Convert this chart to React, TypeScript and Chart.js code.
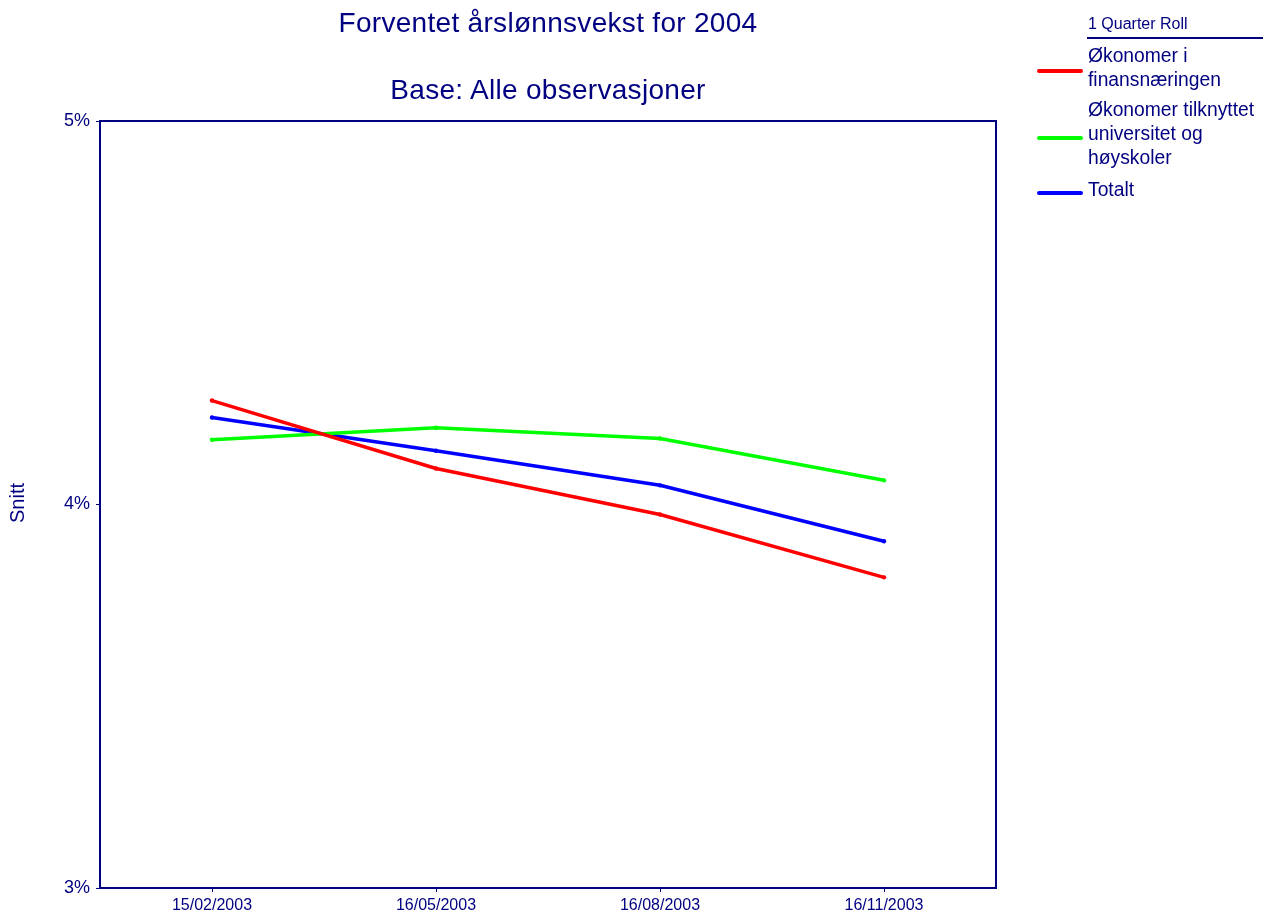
import React, { useEffect, useRef } from "react";
import { Chart, registerables } from "chart.js";
Chart.register(...registerables);

const categories = ["15/02/2003", "16/05/2003", "16/08/2003", "16/11/2003"];
const finans = [4.271, 4.094, 3.974, 3.81];
const universitet = [4.169, 4.2, 4.172, 4.063];
const totalt = [4.227, 4.14, 4.05, 3.904];
const yTicks = [3, 4, 5];

const NAVY = "#000080";
const FONT = "'Liberation Sans', Arial, sans-serif";

const frame = {
  id: "frame",
  afterDraw(chart: any) {
    const { ctx, chartArea: a } = chart;
    ctx.save();
    ctx.strokeStyle = NAVY;
    ctx.lineWidth = 2;
    ctx.strokeRect(a.left, a.top, a.right - a.left, a.bottom - a.top);
    ctx.restore();
  },
};

export default function App() {
  const ref = useRef<HTMLCanvasElement>(null);
  useEffect(() => {
    const ds = (label: string, data: number[], color: string) => ({
      label,
      data,
      borderColor: color,
      backgroundColor: color,
      borderWidth: 3.5,
      pointRadius: 2.2,
      pointBorderWidth: 0,
      tension: 0,
    });
    const chart = new Chart(ref.current!, {
      type: "line",
      data: {
        labels: categories,
        datasets: [
          ds("Økonomer i finansnæringen", finans, "#ff0000"),
          ds("Økonomer tilknyttet universitet og høyskoler", universitet, "#00ff00"),
          ds("Totalt", totalt, "#0000ff"),
        ],
      },
      options: {
        animation: false,
        responsive: false,
        layout: { padding: { left: 0, top: 121, right: 267, bottom: 0 } },
        plugins: { legend: { display: false }, title: { display: false }, tooltip: { enabled: false } },
        scales: {
          x: {
            offset: true,
            grid: { drawOnChartArea: false, tickLength: 4, color: NAVY, lineWidth: 1 },
            border: { color: NAVY, width: 2 },
            ticks: { color: NAVY, font: { family: FONT, size: 16 }, maxRotation: 0, padding: 4 },
            afterFit: (s: any) => { s.height = 24; },
          },
          y: {
            min: 3,
            max: 5,
            afterBuildTicks: (s: any) => { s.ticks = yTicks.map((v) => ({ value: v })); },
            grid: { drawOnChartArea: false, tickLength: 4, color: NAVY, lineWidth: 1 },
            border: { color: NAVY, width: 2 },
            ticks: {
              color: NAVY,
              font: { family: FONT, size: 18 },
              padding: 6,
              callback: (v: any) => v + "%",
            },
            afterFit: (s: any) => { s.width = 100; },
          },
        },
      },
      plugins: [frame],
    });
    return () => chart.destroy();
  }, []);

  const t: React.CSSProperties = { position: "absolute", color: NAVY, fontFamily: FONT, whiteSpace: "nowrap" };
  const title: React.CSSProperties = { ...t, left: 100, width: 896, textAlign: "center", fontSize: 28, lineHeight: "28px", letterSpacing: "0.3px" };
  const legText: React.CSSProperties = { ...t, left: 1088, fontSize: 19.3, lineHeight: "24px" };
  const swatch = (top: number, color: string): React.CSSProperties => ({
    position: "absolute", left: 1037, top, width: 46, height: 4, background: color, borderRadius: 2,
  });

  return (
    <div style={{ position: "absolute", left: 0, top: 0, width: 1263, height: 912, background: "#fff", overflow: "hidden" }}>
      <canvas ref={ref} width={1263} height={912} style={{ position: "absolute", left: 0, top: 0 }} />
      <div style={{ ...title, top: 9 }}>Forventet årslønnsvekst for 2004</div>
      <div style={{ ...title, top: 76 }}>Base: Alle observasjoner</div>
      <div style={{ ...t, left: -8, top: 491, width: 50, height: 24, lineHeight: "24px", fontSize: 20, transform: "rotate(-90deg)", transformOrigin: "center", textAlign: "center" }}>Snitt</div>
      <div style={{ ...t, left: 1088, top: 16, fontSize: 16, lineHeight: "16px" }}>1 Quarter Roll</div>
      <div style={{ position: "absolute", left: 1087, top: 37, width: 176, height: 2, background: NAVY }} />
      <div style={{ ...legText, top: 44 }}>Økonomer i<br />finansnæringen</div>
      <div style={swatch(69, "#ff0000")} />
      <div style={{ ...legText, top: 98 }}>Økonomer tilknyttet<br />universitet og<br />høyskoler</div>
      <div style={swatch(136, "#00ff00")} />
      <div style={{ ...legText, top: 178 }}>Totalt</div>
      <div style={swatch(191, "#0000ff")} />
    </div>
  );
}
